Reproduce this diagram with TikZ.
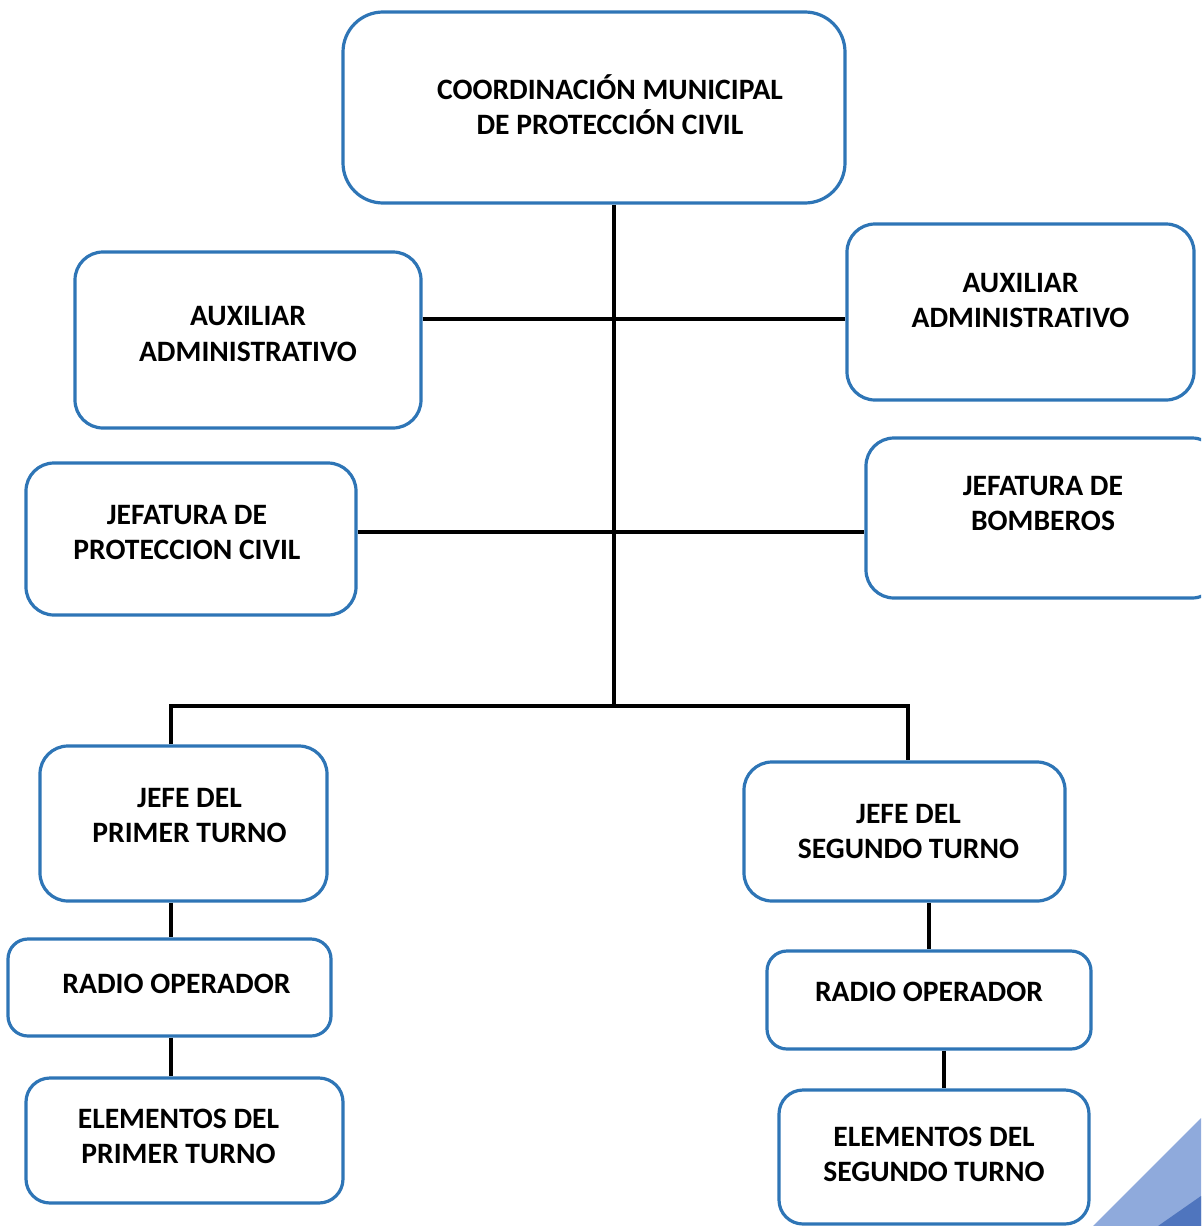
\documentclass[tikz,border=0pt]{standalone}
\usepackage{fontspec}
\setmainfont{Carlito}
\usepackage{xcolor}

\definecolor{boxblue}{RGB}{46,117,182}
\definecolor{stripelight}{RGB}{143,170,220}
\definecolor{stripedark}{RGB}{79,117,190}

\begin{document}
\begin{tikzpicture}
  [x=0.5pt,y=-0.5pt,
   box/.style={draw=boxblue,line width=1.6pt,rounded corners=14pt,inner sep=0pt},
   every label/.style={align=center,inner sep=0pt,
               font=\fontsize{14.8}{17.5}\selectfont\bfseries},
   link/.style={line width=1.8pt},
  ]
  \clip (0,0) rectangle (1201,1226);
  \fill[stripelight] (1093,1226) -- (1201,1118) -- (1201,1226) -- cycle;
  \fill[stripedark] (1158,1226) -- (1201,1196) -- (1201,1226) -- cycle;

  \node[box,minimum width=251pt,minimum height=95.5pt,rounded corners=20pt,
        label={[xshift=8pt,yshift=1.5pt]center:COORDINACIÓN MUNICIPAL\\DE PROTECCIÓN CIVIL}] (coord) at (594,107.5) {};
  \node[box,minimum width=173pt,minimum height=88pt,
        label={[yshift=3pt]center:AUXILIAR\\ADMINISTRATIVO}] (auxl) at (248,340) {};
  \node[box,minimum width=173.5pt,minimum height=88pt,
        label={[yshift=5.5pt]center:AUXILIAR\\ADMINISTRATIVO}] (auxr) at (1020.5,312) {};
  \node[box,minimum width=165pt,minimum height=76pt,
        label={[xshift=-2pt,yshift=3.5pt]center:JEFATURA DE\\PROTECCION CIVIL}] (jpc) at (191,539) {};
  \node[box,minimum width=177pt,minimum height=80pt,
        label={[yshift=7.5pt]center:JEFATURA DE\\BOMBEROS}] (jbomb) at (1043,518) {};

  \node[box,minimum width=143.5pt,minimum height=77.5pt,
        label={[xshift=3pt,yshift=4pt]center:JEFE DEL\\PRIMER TURNO}] (jp) at (183.5,823.5) {};
  \node[box,minimum width=161.5pt,minimum height=48.5pt,rounded corners=10pt,
        label={[xshift=3.5pt,yshift=2pt]center:RADIO OPERADOR}] (rl) at (169.5,987.5) {};
  \node[box,minimum width=158.5pt,minimum height=62.5pt,rounded corners=12pt,
        label={[xshift=-3pt,yshift=2pt]center:ELEMENTOS DEL\\PRIMER TURNO}] (el) at (184.5,1140.5) {};

  \node[box,minimum width=160.5pt,minimum height=69.5pt,
        label={[xshift=2pt]center:JEFE DEL\\SEGUNDO TURNO}] (js) at (904.5,831.5) {};
  \node[box,minimum width=162pt,minimum height=49pt,rounded corners=10pt,
        label={[yshift=4pt]center:RADIO OPERADOR}] (rr) at (929,1000) {};
  \node[box,minimum width=155pt,minimum height=67pt,rounded corners=12pt,
        label={[yshift=1.5pt]center:ELEMENTOS DEL\\SEGUNDO TURNO}] (er) at (934,1157) {};

  \coordinate (h1) at (614,319);
  \coordinate (h2) at (614,532);
  \coordinate (split) at (614,706);
  \coordinate (bl) at (171,706);
  \coordinate (br) at (908,706);
  \coordinate (r2) at (944,1070);

  \draw[link] (split |- coord.south) -- (split);
  \draw[link] (h1 -| auxl.east) -- (h1 -| auxr.west);
  \draw[link] (h2 -| jpc.east) -- (h2 -| jbomb.west);
  \draw[link] (bl |- jp.north) -- (bl) -- (br) -- (br |- js.north);
  \draw[link] (bl |- jp.south) -- (bl |- rl.north);
  \draw[link] (bl |- rl.south) -- (bl |- el.north);
  \draw[link] (rr.north |- js.south) -- (rr.north);
  \draw[link] (r2 |- rr.south) -- (r2 |- er.north);
\end{tikzpicture}
\end{document}
